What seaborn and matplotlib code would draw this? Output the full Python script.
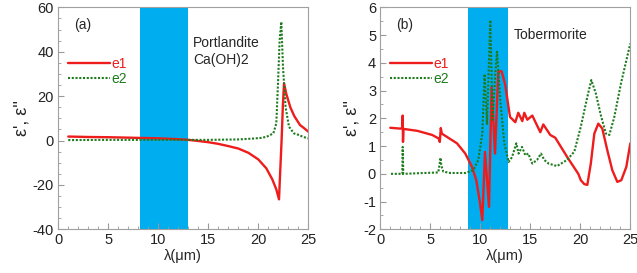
import matplotlib
matplotlib.use("Agg")
import matplotlib.pyplot as plt
import seaborn as sns
from matplotlib.ticker import MultipleLocator

# ---- data ----
# (a) Portlandite Ca(OH)2
port_x_e1 = [1, 3, 5, 8, 10, 12, 13, 14, 15, 16, 17, 18, 19, 20, 20.8, 21.4, 21.8,
             22.07, 22.17, 22.33, 22.45, 22.57, 22.8, 23.2, 23.6, 24.17, 24.6, 25]
port_e1 = [1.8, 1.6, 1.5, 1.2, 1.0, 0.6, 0.3, -0.2, -0.75, -1.5, -2.5, -3.6, -5.5, -8.5,
           -12.5, -17.5, -22, -26.5, -16, 0.2, 15, 25.8, 21, 15, 11, 7, 5.5, 4]
port_x_e2 = [1, 5, 10, 15, 18, 19.5, 20.3, 20.83, 21.5, 21.8, 21.97, 22.13, 22.3,
             22.47, 22.73, 23.07, 23.57, 24.07, 24.5, 25]
port_e2 = [0.2, 0.3, 0.3, 0.3, 0.5, 0.9, 1.2, 1.7, 3.2, 7.7, 25.8, 45, 53.5,
           33, 15, 6.2, 3.2, 2.5, 1.6, 1.0]

# (b) Tobermorite
tob_x_e1 = [1.0, 2.0, 2.2, 2.24, 2.27, 2.32, 3.7, 5.2, 5.85, 5.95, 6.05, 6.15, 6.67,
            7.67, 8.5, 9.17, 9.6, 9.93, 10.2, 10.47, 10.87, 11.13, 11.47, 11.8,
            12.13, 12.5, 12.97, 13.5, 13.8, 14.2, 14.4, 14.7, 15.2, 16.0, 16.3,
            17.0, 17.5, 18.7, 19.8, 20.05, 20.4, 20.7, 21.05, 21.4, 21.8, 22.2,
            22.7, 23.2, 23.7, 24.1, 24.6, 25.0]
tob_e1 = [1.66, 1.63, 1.65, 2.1, 1.15, 1.62, 1.55, 1.4, 1.27, 1.15, 1.65, 1.45, 1.33,
          1.1, 0.73, 0.25, -0.23, -0.95, -1.67, 0.79, -1.19, 3.13, 0.73, 3.68,
          3.7, 3.2, 2.05, 1.86, 2.2, 1.9, 2.2, 1.95, 2.1, 1.5, 1.78,
          1.4, 1.3, 0.6, 0.0, -0.23, -0.37, -0.4, 0.37, 1.45, 1.81, 1.63,
          0.85, 0.13, -0.29, -0.23, 0.25, 1.1]
tob_x_e2 = [1.07, 2.2, 2.24, 2.3, 5.8, 5.95, 6.02, 6.1, 6.3, 7.0, 8.5, 9.3, 9.8, 10.2,
            10.43, 10.67, 11.0, 11.23, 11.5, 11.67, 12.0, 12.4, 12.83, 13.17, 13.6,
            13.83, 14.17, 14.5, 14.8, 15.2, 15.67, 16.07, 16.4, 16.83, 17.67, 18.67,
            19.4, 20.05, 20.7, 21.1, 21.55, 22.06, 22.56, 22.9, 23.4, 24.06, 25.0]
tob_e2 = [0.0, 0.0, 0.97, 0.0, 0.05, 0.4, 0.58, 0.3, 0.08, 0.03, 0.03, 0.13, 0.5, 1.45,
          3.6, 1.8, 5.54, 1.95, 3.6, 4.4, 2.65, 1.1, 0.43, 0.6, 1.1,
          0.73, 0.97, 0.67, 0.73, 0.37, 0.5, 0.73, 0.5, 0.37, 0.28, 0.5,
          0.8, 1.7, 2.77, 3.38, 2.9, 2.1, 1.45, 1.4, 2.05, 3.25, 4.7]

bands = [(8.2, 13.0), (8.8, 12.8)]
panel_tags = ["(a)", "(b)"]

sns.set_style("ticks")
plt.rcParams["font.family"] = ["Liberation Sans", "DejaVu Sans"]
plt.rcParams["axes.unicode_minus"] = False

RED = "#ee1c1c"
GREEN = "#1e7b1e"
BAND = "#00adef"

fig = plt.figure(figsize=(6.37, 2.73), dpi=100)
ax1 = fig.add_axes([0.0915, 0.160, 0.3925, 0.813])
ax2 = fig.add_axes([0.597, 0.160, 0.3925, 0.813])

panels = [
    (ax1, port_x_e1, port_e1, port_x_e2, port_e2, (-40, 60), 20, 5),
    (ax2, tob_x_e1, tob_e1, tob_x_e2, tob_e2, (-2, 6), 1, 0.5),
]

for i, (ax, x1, y1, x2, y2, ylim, ymaj, ymin) in enumerate(panels):
    ax.axvspan(bands[i][0], bands[i][1], color=BAND, lw=0, zorder=0)
    sns.lineplot(x=x1, y=y1, ax=ax, color=RED, lw=1.7, label="e1", sort=False,
                 estimator=None)
    sns.lineplot(x=x2, y=y2, ax=ax, color=GREEN, lw=1.5, label="e2", sort=False,
                 estimator=None, linestyle=(0, (1, 0.8)))
    ax.set_xlim(0, 25)
    ax.set_ylim(*ylim)
    ax.xaxis.set_major_locator(MultipleLocator(5))
    ax.xaxis.set_minor_locator(MultipleLocator(1))
    ax.yaxis.set_major_locator(MultipleLocator(ymaj))
    ax.yaxis.set_minor_locator(MultipleLocator(ymin))
    ax.tick_params(which="both", direction="in", top=False, right=False,
                   labelsize=10.5, colors="#222222", pad=3)
    ax.tick_params(which="major", length=4, color="#999999")
    ax.tick_params(which="minor", length=2, color="#999999")
    for sp in ax.spines.values():
        sp.set_color("#a0a0a0")
        sp.set_linewidth(0.8)
    ax.set_xlabel("λ(μm)", fontsize=10.5, labelpad=1)
    ax.set_ylabel("ε', ε''", fontsize=13, labelpad=2)
    ax.text(0.065, 0.92, panel_tags[i], transform=ax.transAxes, fontsize=10,
            va="center", ha="left")
    leg = ax.legend(loc="upper left", bbox_to_anchor=(0.0, 0.82), frameon=False,
                    fontsize=10, handlelength=3.0, handletextpad=0.1,
                    labelspacing=0.05, borderaxespad=0.3)
    for txt, c in zip(leg.get_texts(), [RED, GREEN]):
        txt.set_color(c)

ax1.text(0.54, 0.80, "Portlandite\nCa(OH)2", transform=ax1.transAxes, fontsize=10,
         va="center", ha="left", linespacing=1.25)
ax2.text(0.534, 0.875, "Tobermorite", transform=ax2.transAxes, fontsize=10,
         va="center", ha="left")

fig.savefig("out.png", dpi=100)
